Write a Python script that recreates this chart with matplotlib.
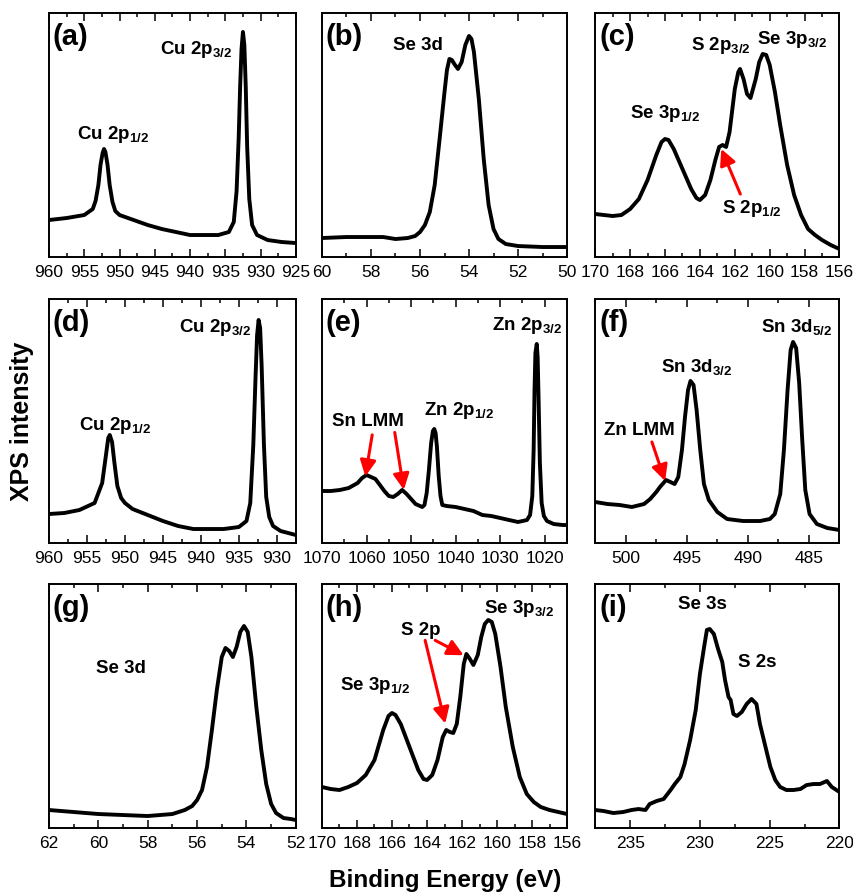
import matplotlib
matplotlib.use('Agg')
import matplotlib.pyplot as plt
from matplotlib.ticker import MultipleLocator

plt.rcParams['font.family'] = ['Liberation Sans', 'DejaVu Sans']
plt.rcParams['mathtext.fontset'] = 'custom'
plt.rcParams['mathtext.rm'] = 'Liberation Sans'
plt.rcParams['mathtext.bf'] = 'Liberation Sans:bold'
plt.rcParams['mathtext.default'] = 'bf'

# binding energy (eV) / intensity (a.u.)
# (a) Cu 2p
a_be = [960, 957.5, 955, 953.8, 953.4, 953.0, 952.7, 952.4, 952.2, 952.0, 951.7, 951.4, 951.0, 950.6,
        950, 948, 946, 944, 942, 940, 938, 936, 934.5, 933.8, 933.4, 933.1, 932.9, 932.7, 932.5,
        932.3, 932.1, 931.9, 931.6, 931.2, 930.5, 929, 927, 925]
a_int = [37, 39, 42, 48, 56, 72, 92, 104, 108, 105, 92, 72, 55, 46,
         42, 37, 32, 28, 25, 22, 22, 22, 25, 35, 66, 120, 170, 208, 225,
         212, 170, 110, 58, 32, 22, 17, 15, 14]

# (b) Se 3d
b_be = [60, 59, 58.5, 58, 57.5, 57, 56.5, 56.2, 56, 55.8, 55.6, 55.4, 55.2, 55, 54.9, 54.8, 54.7,
        54.6, 54.45, 54.3, 54.15, 54.0, 53.9, 53.8, 53.6, 53.4, 53.2, 53.0, 52.8, 52.5, 52, 51, 50]
b_int = [19, 20, 20, 20, 20, 18, 19, 21, 25, 32, 45, 72, 118, 165, 187, 198, 197,
         193, 188, 195, 212, 221, 218, 205, 158, 98, 52, 28, 18, 13, 11, 10, 10]

# (c) Se 3p / S 2p
c_be = [170, 169.5, 169, 168.5, 168, 167.5, 167, 166.5, 166.2, 166.0, 165.8, 165.5, 165, 164.5,
        164.2, 164.0, 163.7, 163.4, 163.1, 162.9, 162.7, 162.5, 162.3, 162.0, 161.8, 161.7, 161.5,
        161.3, 161.1, 160.8, 160.6, 160.4, 160.2, 160.0, 159.7, 159.4, 159.0, 158.6, 158.2, 157.8,
        157.4, 157, 156.5, 156]
c_int = [43, 42, 41, 42, 48, 58, 77, 102, 115, 118, 117, 108, 88, 68,
         59, 57, 62, 77, 98, 110, 112, 110, 125, 168, 185, 188, 178,
         163, 159, 178, 195, 203, 202, 192, 165, 132, 92, 62, 42, 28,
         22, 17, 12, 8]

# (d) Cu 2p
d_be = [960, 958, 956, 954, 953, 952.5, 952.2, 952.0, 951.7, 951.4, 951, 950.5, 950, 949, 947, 945,
        943, 941, 939, 937, 935, 934, 933.5, 933.1, 932.8, 932.6, 932.4, 932.2, 932.0, 931.7, 931.4,
        931, 930.5, 929.5, 928.5, 927.5]
d_int = [29, 30, 33, 40, 60, 88, 105, 108, 101, 81, 57, 45, 40, 34, 28, 22,
         17, 14, 14, 14, 16, 22, 40, 98, 167, 208, 223, 215, 177, 98, 46,
         26, 17, 12, 10, 8]

# (e) Sn LMM / Zn 2p
e_be = [1070, 1068, 1066, 1064, 1062, 1061, 1060, 1059, 1058, 1057, 1056, 1055, 1054, 1053, 1052,
        1051, 1050, 1049, 1048, 1047.5, 1047, 1046.5, 1046, 1045.5, 1045.1, 1044.8, 1044.5, 1044.2,
        1043.8, 1043.4, 1043, 1042, 1040, 1038, 1036, 1034, 1032, 1030, 1028, 1026, 1025, 1024,
        1023.3, 1022.8, 1022.5, 1022.3, 1022.1, 1021.8, 1021.6, 1021.4, 1021.1, 1020.7, 1020.2,
        1019.5, 1018, 1016, 1015]
e_int = [52, 52, 53, 55, 60, 65, 68, 66, 64, 58, 52, 47, 46, 49, 53,
         49, 44, 39, 37, 36, 38, 50, 73, 100, 112, 114, 110, 96,
         67, 47, 38, 37, 36, 34, 32, 28, 27, 25, 23, 21, 22, 23,
         28, 47, 93, 153, 190, 199, 186, 146, 80, 40, 27,
         22, 19, 18, 18]

# (f) Zn LMM / Sn 3d
f_be = [502.5, 501.5, 500.5, 499.5, 498.5, 498.0, 497.5, 497.2, 496.7, 496.35, 496.0, 495.7, 495.4,
        495.15, 494.9, 494.7, 494.45, 494.2, 493.9, 493.6, 493.2, 492.5, 491.7, 490.4, 489, 488.2,
        487.8, 487.35, 487.05, 486.75, 486.5, 486.3, 486.05, 485.8, 485.55, 485.3, 484.95, 484.35,
        483.5, 482.5]
f_int = [41, 39, 38, 36, 39, 44, 51, 56, 63, 61, 59, 66, 93,
         126, 153, 162, 158, 133, 93, 59, 43, 31, 24, 22, 22, 24,
         29, 49, 93, 153, 193, 201, 195, 160, 103, 53, 29, 19,
         15, 13]

# (g) Se 3d
g_be = [62, 61, 60, 59, 58, 57.5, 57, 56.5, 56.2, 56, 55.8, 55.6, 55.4, 55.2, 55.0, 54.85, 54.7, 54.55,
        54.4, 54.25, 54.1, 53.95, 53.8, 53.6, 53.4, 53.2, 53.0, 52.8, 52.5, 52.2, 52]
g_int = [18, 16, 14, 13, 12, 13, 14, 18, 22, 28, 38, 61, 98, 138, 171, 180, 177, 171,
         181, 196, 202, 196, 171, 121, 78, 44, 24, 15, 10, 9, 8]

# (h) Se 3p / S 2p
h_be = [170, 169.5, 169, 168.5, 168, 167.5, 167, 166.5, 166.2, 166.0, 165.8, 165.5, 165, 164.5, 164.2,
        164.0, 163.7, 163.4, 163.1, 162.9, 162.7, 162.5, 162.3, 162.1, 161.9, 161.75, 161.55, 161.35,
        161.1, 160.9, 160.7, 160.5, 160.3, 160.1, 159.8, 159.5, 159.1, 158.7, 158.3, 157.9, 157.5,
        157, 156.5, 156]
h_int = [41, 39, 38, 41, 45, 53, 68, 98, 112, 115, 113, 104, 81, 58, 49,
         48, 53, 68, 91, 98, 96, 95, 104, 131, 164, 174, 169, 163,
         173, 191, 204, 208, 206, 194, 161, 121, 81, 51, 34, 26, 21,
         18, 16, 14]

# (i) Se 3s / S 2s
i_be = [237.5, 236.9, 236.2, 235.5, 234.9, 234.4, 233.9, 233.6, 233.1, 232.6, 232.1, 231.8, 231.4,
        231.1, 230.7, 230.3, 230.0, 229.7, 229.5, 229.3, 229.0, 228.7, 228.4, 228.2, 227.95, 227.8,
        227.6, 227.35, 227.0, 226.65, 226.3, 225.95, 225.7, 225.3, 224.95, 224.6, 224.25, 223.8,
        223.3, 222.8, 222.35, 221.85, 221.4, 220.9, 220.55, 220.0]
i_int = [18, 17, 15, 16, 18, 19, 18, 24, 27, 29, 38, 44, 51,
         64, 88, 118, 154, 181, 198, 199, 194, 179, 166, 148, 131, 128,
         114, 112, 116, 124, 129, 124, 104, 81, 61, 48, 41, 38,
         38, 39, 43, 44, 44, 47, 41, 36]

xlims = [(960, 925), (60, 50), (170, 156), (960, 927.5), (1070, 1015), (502.5, 482.5),
         (62, 52), (170, 156), (237.5, 220)]
majors = [5, 2, 2, 5, 10, 5, 2, 2, 5]
letters = ['(a)', '(b)', '(c)', '(d)', '(e)', '(f)', '(g)', '(h)', '(i)']
energies = [a_be, b_be, c_be, d_be, e_be, f_be, g_be, h_be, i_be]
intens = [a_int, b_int, c_int, d_int, e_int, f_int, g_int, h_int, i_int]

fig = plt.figure(figsize=(8.54, 8.94), dpi=100)
lefts = [0.0574, 0.377, 0.697]
widths = [0.289, 0.287, 0.286]
bottoms = [0.7125, 0.3926, 0.0738]
axes = []
for r in range(3):
    for c in range(3):
        axes.append(fig.add_axes([lefts[c], bottoms[r], widths[c], 0.273]))

for k, ax in enumerate(axes):
    ax.plot(energies[k], intens[k], color='black', lw=2.8, solid_joinstyle='round')
    ax.set_xlim(*xlims[k])
    ax.set_ylim(0, 244)
    ax.set_yticks([])
    ax.xaxis.set_major_locator(MultipleLocator(majors[k]))
    ax.xaxis.set_minor_locator(MultipleLocator(majors[k] / 2))
    ax.tick_params(axis='x', which='both', direction='in', top=True, width=1.1, labelsize=12.5, pad=6)
    ax.tick_params(axis='x', which='major', length=5.5)
    ax.tick_params(axis='x', which='minor', length=3)
    for s in ax.spines.values():
        s.set_linewidth(1.4)
    ax.text(0.016, 0.9, letters[k], transform=ax.transAxes, fontsize=21, fontweight='bold',
            ha='left', va='center')


def lab(ax, x, y, s):
    ax.text(x, y, s, transform=ax.transAxes, fontsize=13.5, fontweight='bold', ha='center', va='center')


def arrow(ax, tail, head):
    ax.annotate('', xy=head, xytext=tail, xycoords='axes fraction', textcoords='axes fraction',
                arrowprops=dict(arrowstyle='-|>,head_length=0.8,head_width=0.4', color='red',
                                lw=2.2, mutation_scale=12, shrinkA=0, shrinkB=0))


ax = axes[0]
lab(ax, 0.595, 0.85, r'Cu 2p$_{3/2}$')
lab(ax, 0.259, 0.50, r'Cu 2p$_{1/2}$')

ax = axes[1]
lab(ax, 0.393, 0.865, 'Se 3d')

ax = axes[2]
lab(ax, 0.287, 0.59, r'Se 3p$_{1/2}$')
lab(ax, 0.516, 0.865, r'S 2p$_{3/2}$')
lab(ax, 0.807, 0.89, r'Se 3p$_{3/2}$')
lab(ax, 0.643, 0.20, r'S 2p$_{1/2}$')
arrow(ax, (0.594, 0.258), (0.516, 0.443))

ax = axes[3]
lab(ax, 0.671, 0.885, r'Cu 2p$_{3/2}$')
lab(ax, 0.269, 0.48, r'Cu 2p$_{1/2}$')

ax = axes[4]
lab(ax, 0.838, 0.89, r'Zn 2p$_{3/2}$')
lab(ax, 0.56, 0.545, r'Zn 2p$_{1/2}$')
lab(ax, 0.188, 0.498, 'Sn LMM')
arrow(ax, (0.205, 0.443), (0.177, 0.273))
arrow(ax, (0.297, 0.453), (0.334, 0.218))

ax = axes[5]
lab(ax, 0.823, 0.885, r'Sn 3d$_{5/2}$')
lab(ax, 0.416, 0.72, r'Sn 3d$_{3/2}$')
lab(ax, 0.179, 0.462, 'Zn LMM')
arrow(ax, (0.232, 0.414), (0.286, 0.254))

ax = axes[6]
lab(ax, 0.29, 0.652, 'Se 3d')

ax = axes[7]
lab(ax, 0.403, 0.811, 'S 2p')
lab(ax, 0.215, 0.585, r'Se 3p$_{1/2}$')
lab(ax, 0.804, 0.90, r'Se 3p$_{3/2}$')
arrow(ax, (0.421, 0.769), (0.503, 0.428))
arrow(ax, (0.462, 0.769), (0.578, 0.708))

ax = axes[8]
lab(ax, 0.437, 0.914, 'Se 3s')
lab(ax, 0.664, 0.68, 'S 2s')

fig.text(0.026, 1 - 421 / 894, 'XPS intensity', rotation=90, fontsize=18, fontweight='bold',
         ha='center', va='center')
fig.text(445 / 854, 1 - 880 / 894, 'Binding Energy (eV)', fontsize=17.5, fontweight='bold',
         ha='center', va='center')

fig.savefig('out.png', dpi=100)
